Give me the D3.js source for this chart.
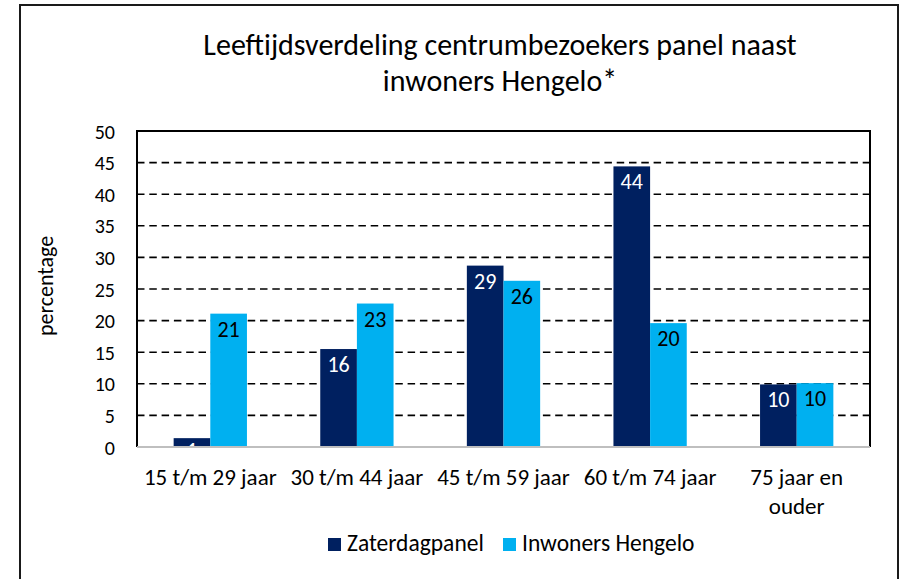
<!DOCTYPE html>
<html lang="nl">
<head>
<meta charset="utf-8">
<title>Leeftijdsverdeling</title>
<script src="https://cdn.jsdelivr.net/npm/d3@7"></script>
<style>
  body { margin: 0; background: #fff; }
  svg text { font-family: Carlito, Calibri, Lato, sans-serif; fill: #000; }
  .axis path, .axis line { display: none; }
</style>
</head>
<body>
<script>

var categories = [["15 t/m 29 jaar"], ["30 t/m 44 jaar"], ["45 t/m 59 jaar"], ["60 t/m 74 jaar"], ["75 jaar en", "ouder"]];
var seriesNames = ["Zaterdagpanel", "Inwoners Hengelo"];
var zaterdagpanel = [1.4, 15.5, 28.7, 44.4, 9.9];
var inwonersHengelo = [21.1, 22.7, 26.3, 19.6, 10.1];
var yTicks = [0, 5, 10, 15, 20, 25, 30, 35, 40, 45, 50];
var colors = ["#002060", "#00b0f0"];
var labelColors = ["#fff", "#000"];

var w = 901, h = 579;
var pLeft = 137, pRight = 870, pTop = 131, pBottom = 447;

var svg = d3.select("body").append("svg")
  .attr("width", w)
  .attr("height", h);

// labels stay inside the plot area, like the short first bar
svg.append("clipPath")
  .attr("id", "plotclip")
  .append("rect")
  .attr("x", pLeft).attr("y", pTop)
  .attr("width", pRight - pLeft).attr("height", pBottom - pTop + 1);

// outer chart border
svg.append("rect")
  .attr("x", 20).attr("y", 5)
  .attr("width", 878).attr("height", 600)
  .attr("fill", "none")
  .attr("stroke", "#1a1a1a")
  .attr("stroke-width", 2);

// title
svg.append("text")
  .attr("x", 500).attr("y", 55)
  .attr("text-anchor", "middle")
  .style("font-size", "30px")
  .text("Leeftijdsverdeling centrumbezoekers panel naast");
svg.append("text")
  .attr("x", 500).attr("y", 91)
  .attr("text-anchor", "middle")
  .style("font-size", "30px")
  .text("inwoners Hengelo*");

var x0 = d3.scaleBand()
  .domain(d3.range(categories.length))
  .range([pLeft, pRight])
  .padding(0);

var x1 = d3.scaleBand()
  .domain(d3.range(seriesNames.length))
  .range([x0.bandwidth() / 4, x0.bandwidth() * 3 / 4]);

var y = d3.scaleLinear()
  .domain([0, 50])
  .range([pBottom, pTop]);

// gridlines
svg.append("g")
  .selectAll("line")
  .data(yTicks.filter(function(d){ return d > 0 && d < 50; }))
  .enter().append("line")
  .attr("x1", pLeft).attr("x2", pRight)
  .attr("y1", function(d){ return y(d); })
  .attr("y2", function(d){ return y(d); })
  .attr("stroke", "#000")
  .attr("stroke-width", 1.6)
  .attr("stroke-dasharray", "7.5,4.8");

// y axis labels
svg.append("g")
  .attr("class", "axis")
  .attr("transform", "translate(" + pLeft + ",0)")
  .call(d3.axisLeft(y).tickValues(yTicks).tickSize(0).tickPadding(22))
  .selectAll("text")
  .style("font-size", "20px")
  .attr("dy", "0.35em");

svg.append("text")
  .attr("transform", "translate(53,286) rotate(-90)")
  .attr("text-anchor", "middle")
  .style("font-size", "22px")
  .text("percentage");

// bars
var values = [zaterdagpanel, inwonersHengelo];
var series = svg.selectAll("g.series")
  .data(values)
  .enter().append("g")
  .attr("class", "series");

series.selectAll("rect")
  .data(function(d, s){ return d.map(function(v, i){ return {s: s, i: i, v: v}; }); })
  .enter().append("rect")
  .attr("x", function(d){ return x0(d.i) + x1(d.s); })
  .attr("y", function(d){ return y(d.v); })
  .attr("width", x1.bandwidth())
  .attr("height", function(d){ return y(0) - y(d.v); })
  .attr("fill", function(d){ return colors[d.s]; });

series.append("g")
  .attr("clip-path", "url(#plotclip)")
  .selectAll("text")
  .data(function(d, s){ return d.map(function(v, i){ return {s: s, i: i, v: v}; }); })
  .enter().append("text")
  .attr("x", function(d){ return x0(d.i) + x1(d.s) + x1.bandwidth() / 2; })
  .attr("y", function(d){ return Math.min(y(d.v) + 23, pBottom + 11); })
  .attr("text-anchor", "middle")
  .style("font-size", "22px")
  .style("fill", function(d){ return labelColors[d.s]; })
  .text(function(d){ return Math.round(d.v); });

// plot area border and category axis
svg.append("path")
  .attr("d", "M" + pLeft + "," + pBottom + "V" + pTop + "H" + pRight + "V" + pBottom)
  .attr("fill", "none")
  .attr("stroke", "#000")
  .attr("stroke-width", 2);
svg.append("line")
  .attr("x1", pLeft).attr("x2", pRight)
  .attr("y1", pBottom).attr("y2", pBottom)
  .attr("stroke", "#bfbfbf")
  .attr("stroke-width", 2);

// category labels
var xl = svg.append("g").selectAll("text")
  .data(categories)
  .enter().append("text")
  .attr("x", function(d, i){ return x0(i) + x0.bandwidth() / 2; })
  .attr("y", 485)
  .attr("text-anchor", "middle")
  .style("font-size", "23px");
xl.selectAll("tspan")
  .data(function(d){ return d; })
  .enter().append("tspan")
  .attr("x", function(){ return d3.select(this.parentNode).attr("x"); })
  .attr("dy", function(d, i){ return i ? 29 : 0; })
  .text(function(d){ return d; });

// legend
var legendX = [328, 503];
var lg = svg.selectAll("g.legend")
  .data(seriesNames)
  .enter().append("g")
  .attr("class", "legend")
  .attr("transform", function(d, i){ return "translate(" + legendX[i] + ",538)"; });
lg.append("rect")
  .attr("width", 13).attr("height", 13)
  .attr("fill", function(d, i){ return colors[i]; });
lg.append("text")
  .attr("x", 19).attr("y", 13)
  .style("font-size", "23.5px")
  .text(function(d){ return d; });

</script>
</body>
</html>
